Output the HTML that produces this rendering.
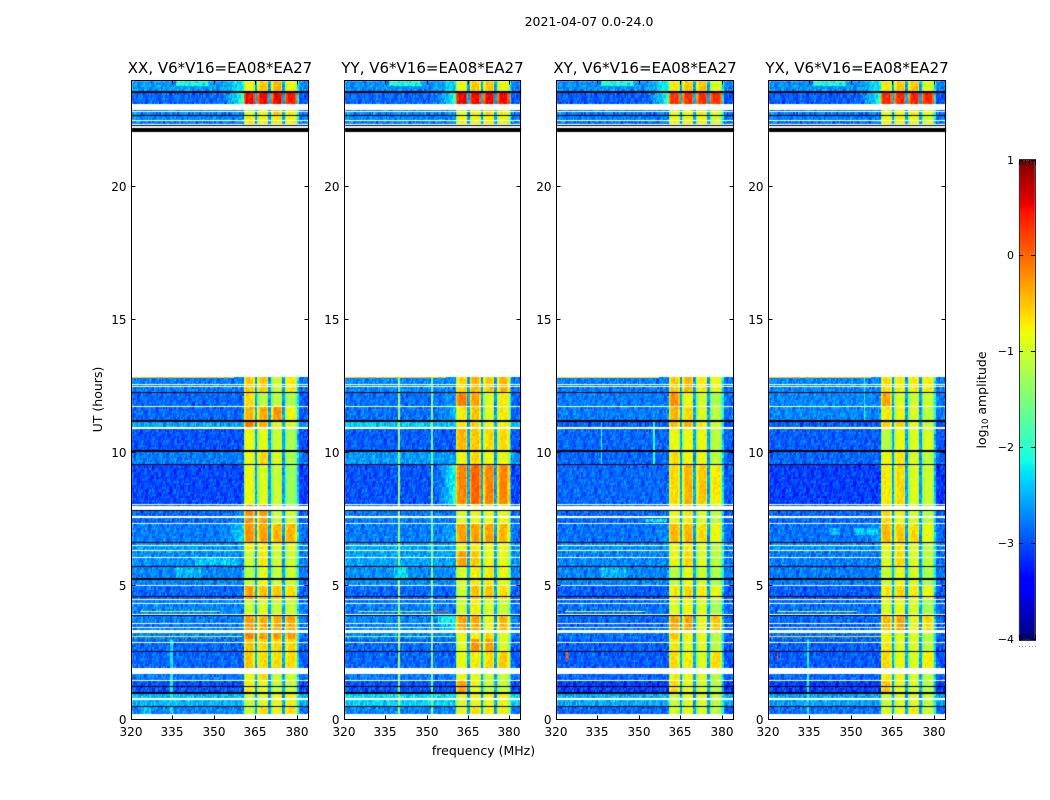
<!DOCTYPE html>
<html lang="en">
<head>
<meta charset="utf-8">
<title>2021-04-07 amplitude waterfall</title>
<style>
html,body{margin:0;padding:0;background:#fff;}
#figure{position:relative;width:1050px;height:800px;overflow:hidden;background:#fff;}
canvas{position:absolute;left:0;top:0;}
svg{position:absolute;left:0;top:0;}
text{font-family:"DejaVu Sans","Liberation Sans",sans-serif;fill:#000;}
</style>
</head>
<body>
<div id="figure">
<canvas id="heat" width="1050" height="800"></canvas>
<svg id="overlay" width="1050" height="800" viewBox="0 0 1050 800" xmlns="http://www.w3.org/2000/svg">
<text x="589" y="26" font-size="12.5" text-anchor="middle">2021-04-07 0.0-24.0</text>
<text x="483.5" y="755" font-size="12.5" text-anchor="middle">frequency (MHz)</text>
<text transform="translate(102,399.5) rotate(-90)" font-size="12.5" text-anchor="middle">UT (hours)</text>
<text transform="translate(986,400) rotate(-90)" font-size="12.5" text-anchor="middle">log<tspan font-size="8.5" dy="2">10</tspan><tspan dy="-2"> amplitude</tspan></text>
</svg>
</div>
<script>
// ---- axes ----
const panelTitles = ["XX, V6*V16=EA08*EA27","YY, V6*V16=EA08*EA27","XY, V6*V16=EA08*EA27","YX, V6*V16=EA08*EA27"];
const xTicks = [320,335,350,365,380];
const yTicks = [0,5,10,15,20];
const colorTicks = [1,0,-1,-2,-3,-4];
const colorTickLabels = ["1","0","\u22121","\u22122","\u22123","\u22124"];

// ---- spectral windows (MHz) ----
const windowStarts = [360.5,365.5,370.5,375.5];
const windowEnds = [364.5,369.5,374.5,380];
const windowProfile = [-0.5,-0.15,0,0,0,0,0,-0.3,-0.4];

// ---- time band edges (hours) ----
const bandEdges = [0.19,0.49,1.0,1.46,1.94,2.54,3.06,3.37,3.96,4.52,5.05,5.73,6.36,6.64,7.37,8.07,9.59,10.08,10.94,11.21,11.77,12.29,12.87,22.08,22.31,22.69,23.13,23.55,24];

// ---- log10 amplitude per band: [background, level near 360 MHz, window1..4] ----
const levelsXX = [
[-2.85,-2.85,-1.2,-0.8,-1.0,-0.8],[-2.6,-2.6,-1.2,-1.1,-1.0,-1.0],[-3.1,-3.1,-0.9,-1.0,-1.2,-1.2],[-2.9,-2.9,-1.0,-0.8,-1.2,-1.2],
[-3.0,-3.0,-0.7,-0.8,-0.8,-0.8],[-3.0,-3.0,-0.7,-0.8,-0.8,-0.8],[-2.85,-2.85,-0.35,-0.5,-0.45,-0.45],[-2.9,-2.9,-0.45,-0.55,-0.55,-0.55],
[-2.85,-2.85,-1.2,-1.1,-1.2,-1.2],[-3.0,-3.0,-0.5,-0.7,-0.7,-0.8],[-2.85,-2.85,-1.3,-1.0,-1.2,-1.2],[-2.8,-2.8,-1.2,-0.9,-1.2,-1.2],
[-2.75,-2.75,-0.9,-0.9,-1.1,-1.1],[-2.9,-2.4,-0.4,-0.5,-0.6,-0.6],[-3.0,-2.8,-0.4,-0.5,-1.2,-1.2],[-3.15,-3.15,-1.0,-1.1,-1.2,-1.5],
[-2.9,-2.9,-1.0,-0.8,-1.1,-1.4],[-3.1,-3.1,-1.0,-1.05,-1.2,-1.4],[-2.7,-2.7,-0.3,-0.6,-1.0,-1.1],[-3.0,-3.0,-0.6,-0.55,-0.45,-1.0],
[-3.0,-3.0,-0.8,-1.3,-1.3,-1.4],[-2.9,-2.9,-0.7,-0.7,-1.2,-0.9],null,[-2.9,-2.9,-0.6,-0.9,-0.7,-0.9],
[-2.85,-2.85,-0.9,-1.0,-0.9,-1.0],[-2.85,-2.85,-1.1,-1.0,-0.7,-0.9],[-3.0,-1.9,0.3,0.3,0.3,0.2],[-2.75,-2.2,-1.0,-0.7,-0.6,-1.0]];
const levelsYY = [
[-2.85,-2.85,-1.0,-0.8,-0.9,-0.9],[-2.45,-2.45,-1.1,-1.0,-1.0,-1.0],[-3.1,-3.1,-0.5,-1.0,-1.2,-1.2],[-2.9,-2.9,-1.0,-1.0,-1.2,-1.2],
[-3.0,-3.0,-1.0,-0.9,-0.8,-0.7],[-3.0,-3.0,-1.1,-0.4,-0.5,-1.1],[-2.85,-2.85,-1.0,-1.0,-0.8,-1.1],[-2.85,-2.3,-0.5,-0.5,-1.0,-0.6],
[-2.9,-2.9,-1.2,-0.9,-1.1,-1.2],[-3.0,-3.0,-1.2,-0.7,-0.7,-0.8],[-2.8,-2.8,-1.1,-0.9,-0.9,-1.0],[-2.7,-2.7,-0.5,-0.7,-1.0,-1.0],
[-2.7,-2.7,-1.0,-0.9,-1.0,-1.0],[-2.9,-2.6,-0.5,-0.5,-0.5,-0.6],[-2.9,-2.9,-1.1,-1.0,-1.0,-1.0],[-3.1,-2.0,-0.35,-0.15,-0.35,-0.35],
[-2.75,-2.75,-1.0,-0.8,-1.0,-1.0],[-3.05,-3.05,-0.6,-0.7,-0.8,-0.8],[-2.5,-2.5,-0.9,-0.8,-1.0,-0.9],[-2.95,-2.6,-0.9,-0.7,-1.1,-0.9],
[-2.95,-2.7,-0.3,-0.5,-1.1,-0.9],[-2.85,-2.85,-0.8,-0.6,-0.7,-0.6],null,[-2.9,-2.9,-0.7,-0.9,-0.8,-0.9],
[-2.85,-2.85,-1.0,-1.0,-0.9,-1.0],[-2.85,-2.85,-1.1,-1.0,-0.8,-0.9],[-3.0,-2.0,0.35,0.3,0.3,0.3],[-2.8,-2.3,-1.0,-0.7,-0.7,-1.0]];
const levelsXY = [
[-3.0,-3.0,-1.1,-1.0,-1.1,-1.3],[-2.65,-2.65,-1.2,-1.1,-1.1,-1.3],[-3.2,-3.2,-0.8,-1.0,-1.1,-1.3],[-3.0,-3.0,-0.9,-1.0,-1.1,-1.3],
[-3.05,-3.05,-0.8,-0.9,-1.1,-0.8],[-3.05,-3.05,-0.9,-1.1,-1.1,-1.3],[-2.95,-2.95,-0.7,-1.0,-1.0,-1.3],[-3.0,-3.0,-0.5,-0.5,-1.0,-0.7],
[-2.95,-2.95,-1.1,-1.0,-1.1,-1.4],[-3.05,-3.05,-0.9,-0.8,-0.9,-1.0],[-2.85,-2.85,-1.3,-1.0,-1.2,-1.4],[-2.85,-2.85,-1.0,-0.8,-1.1,-1.3],
[-2.8,-2.8,-1.0,-0.9,-1.1,-1.3],[-2.95,-2.8,-0.6,-0.6,-0.8,-1.0],[-3.0,-3.0,-1.0,-0.9,-1.1,-1.3],[-3.0,-3.0,-0.8,-0.6,-0.7,-0.9],
[-3.0,-3.0,-0.8,-1.0,-1.0,-1.3],[-3.0,-3.0,-1.0,-1.0,-1.0,-1.3],[-3.05,-3.05,-0.7,-0.6,-0.9,-1.2],[-2.9,-2.9,-0.6,-0.8,-1.1,-1.3],
[-2.9,-2.9,-0.4,-1.0,-1.2,-1.4],[-2.9,-2.9,-0.7,-0.6,-0.9,-1.0],null,[-2.95,-2.95,-0.8,-0.9,-0.9,-1.1],
[-2.9,-2.9,-1.0,-1.0,-1.0,-1.2],[-2.9,-2.9,-1.1,-1.0,-0.9,-1.1],[-3.05,-2.0,0.1,0.1,0.1,0.1],[-2.8,-2.1,-0.9,-0.7,-0.7,-1.1]];
const levelsYX = [
[-2.95,-2.95,-1.1,-1.0,-0.9,-1.2],[-2.7,-2.7,-1.2,-1.1,-1.1,-1.3],[-3.2,-3.2,-0.7,-1.0,-1.1,-1.3],[-3.0,-3.0,-0.9,-1.0,-1.1,-1.3],
[-3.05,-3.05,-0.8,-1.0,-1.1,-0.9],[-3.05,-3.05,-0.9,-1.1,-1.1,-1.3],[-2.95,-2.95,-1.0,-1.1,-1.1,-1.3],[-3.0,-3.0,-0.6,-0.5,-1.0,-0.8],
[-2.95,-2.95,-1.1,-1.0,-1.1,-1.4],[-3.05,-3.05,-0.9,-0.8,-0.9,-1.0],[-2.9,-2.9,-1.2,-1.0,-1.1,-1.4],[-2.9,-2.9,-1.1,-0.8,-1.1,-1.3],
[-2.8,-2.8,-1.0,-0.9,-1.1,-1.3],[-2.95,-2.7,-0.6,-0.7,-0.8,-1.0],[-3.0,-3.0,-0.8,-1.0,-1.1,-1.3],[-3.2,-3.2,-0.9,-0.8,-1.1,-1.2],
[-3.0,-3.0,-1.0,-0.9,-1.1,-1.3],[-3.05,-3.05,-1.3,-1.0,-1.1,-1.1],[-3.05,-3.05,-0.8,-0.8,-1.0,-1.2],[-2.85,-2.85,-0.9,-1.0,-1.1,-1.3],
[-2.85,-2.85,-0.5,-1.1,-1.2,-1.2],[-2.85,-2.85,-0.8,-0.9,-0.9,-0.9],null,[-2.95,-2.95,-0.8,-0.9,-0.9,-1.1],
[-2.9,-2.9,-1.0,-1.0,-1.0,-1.2],[-2.9,-2.9,-1.1,-1.0,-0.9,-1.1],[-3.05,-2.0,0.15,0.15,0.15,0.15],[-2.8,-2.2,-0.9,-0.7,-0.7,-1.1]];
const panelLevels = [levelsXX,levelsYY,levelsXY,levelsYX];

// ---- flagged time ranges [start,end] hours ----
const whiteGaps = [[1.75,1.94],[1.72,1.78],[1.43,1.5],[0.75,0.79],[2.86,2.9],[3.26,3.37],[3.44,3.48],[3.59,3.63],[3.94,3.98],[4.32,4.36],[4.5,4.54],[5.03,5.07],[6.05,6.09],[6.34,6.38],[6.53,6.57],[7.35,7.39],[7.56,7.63],[7.88,8.01],[8.05,8.09],[10.9,10.98],[11.75,11.79],[12.49,12.53],[12.55,12.59],[22.23,22.29],[22.33,22.37],[22.48,22.52],[22.83,22.87],[22.89,23.13]];
const blackGaps = [[0.47,0.51],[0.96,1.03],[1.23,1.27],[2.52,2.56],[3.87,3.91],[4.61,4.65],[5.24,5.3],[5.71,5.75],[6.62,6.66],[7.84,7.88],[9.57,9.61],[10.05,10.11],[11.18,11.24],[12.27,12.31],[22.08,22.2],[22.29,22.33],[22.67,22.71],[23.52,23.6]];

// ---- narrow features per panel: [f0,f1,h0,h1,level] ----
const featuresXX = [[334,335,0.19,3,-2.2],[320,360,3.05,3.09,-0.8],[323,352,4.02,4.06,-1.0],[320,357,12.84,12.87,-0.5],[336,348,23.8,24,-2.1],[336,345,5.3,5.7,-2.5],[343,358,5.8,6.05,-2.4],[324,327,0.19,0.5,-2.4]];
const featuresYY = [[339.5,340,0.19,12.87,-1.3],[351.5,352,0.19,12.87,-1.5],[320,360,3.05,3.09,-1.4],[325,352,4.02,4.06,-1.2],[352,358,4.02,4.06,0.1],[320,357,12.84,12.87,-0.5],[336,348,23.8,24,-2.1],[338,343,5.3,5.7,-2.3],[354,360,3.6,3.9,-2.2]];
const featuresXY = [[323.4,324,2.2,2.6,0.1],[323,352,4.02,4.06,-0.9],[320,357,12.84,12.87,-0.7],[336,348,23.8,24,-2.1],[336,336.5,9.6,11.2,-2.0],[355,355.5,9.6,11.2,-1.8],[336,345,5.3,5.7,-2.5],[352,360,7.4,7.5,-2.3]];
const featuresYX = [[322.8,323.4,2.2,2.6,0.1],[320,380,3.05,3.09,-0.7],[323,352,4.02,4.06,-1.0],[320,357,12.84,12.87,-0.5],[336,348,23.8,24,-2.1],[334,334.5,0.19,3,-2.1],[354.5,355,11.2,12.87,-2.0],[351,360,6.9,7.2,-2.4],[342,346,6.9,7.2,-2.5]];
const panelFeatures = [featuresXX,featuresYY,featuresXY,featuresYX];

// ---- hand-typed speckle offsets giving the cells their noisy look ----
const speckleA = [0.3,-0.7,0.9,-0.2,0.5,-0.9,0.1,0.7,-0.4,-0.8,0.6,0.2,-0.5,1,-0.3,-0.6,0.4,0.8,-1,0,0.6,-0.2,-0.7,0.9,0.3,-0.4,0.5,-0.9,0.2,0.7,-0.1,-0.6,1,-0.5,0.4,-0.8,0.1];
const speckleB = [-0.4,0.8,0.1,-0.9,0.5,0.3,-0.6,0.7,-0.2,0.9,-0.8,0.2,0.4,-0.5,-0.1,1,-0.7,0.6,-0.3,0.2,-1,0.5,0.8,-0.4,0,-0.6,0.9,0.3,-0.8,0.1,0.6,-0.3,0.7,-0.9,0.4,-0.1,0.2,-0.5,0.8,-0.7,0.3];
const gapLevel = -2.6;
const windowOffset = 0.2;
const backgroundOffset = 0.12;

// ---- layout / scales ----
const panelLeft = [131.5,344.5,556.5,768.5];
const panelWidth = [177,176,177,177];
const plotTop = 80.5, plotBottom = 719.5;
const fMin = 320, fMax = 384, hMax = 24;
const cbLeft = 1019, cbRight = 1035, cbTop = 160, cbBottom = 640;
const vMin = -4, vMax = 1;
function xScale(p,f){ return panelLeft[p] + (f-fMin)/(fMax-fMin)*panelWidth[p]; }
function yScale(h){ return plotBottom - h/hMax*(plotBottom-plotTop); }
function cbScale(v){ return cbBottom - (v-vMin)/(vMax-vMin)*(cbBottom-cbTop); }

function interp(xs,ys,t){
  for(let i=1;i<xs.length;i++){ if(t<=xs[i]) return ys[i-1]+(ys[i]-ys[i-1])*(t-xs[i-1])/(xs[i]-xs[i-1]); }
  return ys[ys.length-1];
}
function jet(v){
  const t = Math.max(0,Math.min(1,(v-vMin)/(vMax-vMin)));
  const r = interp([0,0.35,0.66,0.89,1],[0,0,1,1,0.5],t);
  const g = interp([0,0.125,0.375,0.64,0.91,1],[0,0,1,1,0,0],t);
  const b = interp([0,0.11,0.34,0.65,1],[0.5,1,1,0,0],t);
  return "rgb("+Math.round(r*255)+","+Math.round(g*255)+","+Math.round(b*255)+")";
}

const ctx = document.getElementById('heat').getContext('2d');
const channelWidth = 0.5, rowHeight = 0.04;

function bandIndex(h){
  for(let i=0;i<bandEdges.length-1;i++){ if(h>=bandEdges[i] && h<bandEdges[i+1]) return i; }
  return -1;
}
function windowIndex(f){
  for(let i=0;i<windowStarts.length;i++){ if(f>=windowStarts[i] && f<windowEnds[i]) return i; }
  return -1;
}
function cellValue(p,lv,f,h,c,r){
  const noiseCol = c, noiseRow = Math.floor(r/2);
  const n = speckleA[(noiseCol*5+noiseRow*13)%speckleA.length] + speckleB[(noiseCol*3+noiseRow*7)%speckleB.length];
  const w = windowIndex(f);
  let v;
  if(w>=0){
    const k = Math.min(windowProfile.length-1,Math.floor((f-windowStarts[w])/channelWidth));
    v = lv[2+w] + windowOffset + windowProfile[k] + n*0.1;
  } else if(f>=364.5 && f<375.5){
    v = gapLevel + n*0.15;
  } else if(f>=380){
    v = lv[0] + backgroundOffset - 0.05 + (f<380.5?0.6:0) + n*0.2;
  } else {
    const blend = f>350 ? (f-350)/10.5 : 0;
    v = lv[0] + backgroundOffset + (lv[1]-lv[0])*blend*blend + n*0.2;
  }
  const feats = panelFeatures[p];
  for(let i=0;i<feats.length;i++){
    const q = feats[i];
    if(f>=q[0] && f<q[1] && h>=q[2] && h<q[3] && w<0){ v = q[4] + n*0.2; }
  }
  return v;
}
function drawPanel(p){
  const lev = panelLevels[p];
  const cols = Math.round((fMax-fMin)/channelWidth);
  const rows = Math.round(hMax/rowHeight);
  for(let r=0;r<rows;r++){
    const h = r*rowHeight;
    const b = bandIndex(h+rowHeight/2);
    if(b<0 || !lev[b]) continue;
    const y1 = Math.round(yScale(h)), y0 = Math.round(yScale(h+rowHeight));
    for(let c=0;c<cols;c++){
      const f = fMin + c*channelWidth;
      const x0 = Math.round(xScale(p,f)), x1 = Math.round(xScale(p,f+channelWidth));
      ctx.fillStyle = jet(cellValue(p,lev[b],f,h,c,r));
      ctx.fillRect(x0,y0,Math.max(1,x1-x0),Math.max(1,y1-y0));
    }
  }
  const xa = Math.round(panelLeft[p]), xb = Math.round(panelLeft[p]+panelWidth[p]);
  ctx.fillStyle = '#fff';
  whiteGaps.forEach(function(g){
    const y0 = Math.round(yScale(g[1])), y1 = Math.round(yScale(g[0]));
    ctx.fillRect(xa,y0,xb-xa,Math.max(1,y1-y0));
  });
  ctx.fillStyle = '#000';
  blackGaps.forEach(function(g){
    const y0 = Math.round(yScale(g[1])), y1 = Math.round(yScale(g[0]));
    ctx.fillRect(xa,y0,xb-xa,Math.max(1,y1-y0));
  });
}
for(let p=0;p<4;p++){ drawPanel(p); }

// colour bar
for(let y=cbTop;y<cbBottom;y++){
  const v = vMax - (y+0.5-cbTop)/(cbBottom-cbTop)*(vMax-vMin);
  ctx.fillStyle = jet(v);
  ctx.fillRect(cbLeft,y,cbRight-cbLeft,1);
}

// ---- svg overlay ----
const NS = "http://www.w3.org/2000/svg";
const svg = document.getElementById('overlay');
function line(x1,y1,x2,y2,name){
  const el = document.createElementNS(NS,'line');
  el.setAttribute('x1',x1); el.setAttribute('y1',y1); el.setAttribute('x2',x2); el.setAttribute('y2',y2);
  el.setAttribute('stroke','#000'); el.setAttribute('stroke-width','1');
  
  
  svg.appendChild(el);
}
function label(x,y,txt,anchor,size,name){
  const el = document.createElementNS(NS,'text');
  el.setAttribute('x',x); el.setAttribute('y',y);
  el.setAttribute('text-anchor',anchor); el.setAttribute('font-size',size);
  el.textContent = txt;
  
  
  svg.appendChild(el);
}
function frame(x,y,w,h,stroke,name){
  const el = document.createElementNS(NS,'rect');
  el.setAttribute('x',x); el.setAttribute('y',y); el.setAttribute('width',w); el.setAttribute('height',h);
  el.setAttribute('fill','none'); el.setAttribute('stroke',stroke); el.setAttribute('stroke-width','1');
  
  
  svg.appendChild(el);
}
for(let p=0;p<4;p++){
  const L = panelLeft[p], R = panelLeft[p]+panelWidth[p];
  frame(L,plotTop,R-L,plotBottom-plotTop,'#000','panel-frame');
  label(L+panelWidth[p]/2,73,panelTitles[p],'middle',15,'panel-title');
  xTicks.forEach(function(t){
    const x = Math.floor(xScale(p,t))+0.5;
    line(x,plotBottom,x,plotBottom-4,'x-tick');
    line(x,plotTop,x,plotTop+4,'x-tick-top');
    label(x-0.5,736,String(t),'middle',12,'x-tick-label');
  });
  yTicks.forEach(function(t){
    const y = Math.round(yScale(t))-0.5;
    line(L,y,L+4,y,'y-tick');
    line(R,y,R-4,y,'y-tick-right');
    label(L-5,y+4.5,String(t),'end',12,'y-tick-label');
  });
}
frame(cbLeft+0.5,cbTop-0.5,cbRight-cbLeft,cbBottom-cbTop+1,'#333','colorbar-frame');
colorTicks.forEach(function(t,i){
  const y = Math.round(cbScale(t))-0.5+(i===0?1:0);
  line(cbLeft,y,cbLeft+4,y,'colorbar-tick');
  line(cbRight,y,cbRight-4,y,'colorbar-tick-right');
  label(cbLeft-5,y+3.5,colorTickLabels[i],'end',11,'colorbar-tick-label');
});
// colour bar's tiny unlabelled horizontal ticks and the dots printed beneath it
const colorbarEdgeTicks = [0,0.2,0.4,0.6,0.8,1];
colorbarEdgeTicks.forEach(function(t){
  const x = Math.round(cbLeft+t*(cbRight-cbLeft))+0.5;
  line(x,cbTop,x,cbTop+5,'colorbar-edge-tick-top');
  line(x,cbBottom,x,cbBottom-5,'colorbar-edge-tick-bottom');
  const dot = document.createElementNS(NS,'rect');
  dot.setAttribute('x',x-0.5); dot.setAttribute('y',646); dot.setAttribute('width',1); dot.setAttribute('height',1);
  dot.setAttribute('fill','#888');
  
  
  svg.appendChild(dot);
});
</script>
</body>
</html>
